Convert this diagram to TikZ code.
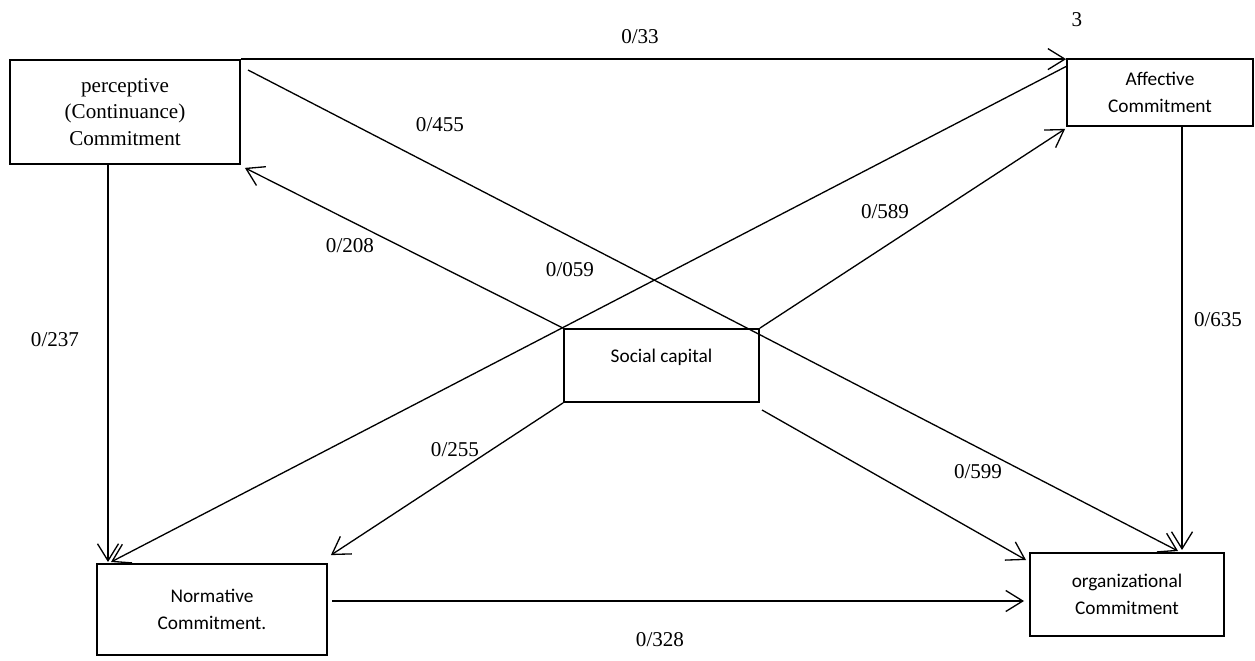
\documentclass[tikz,border=0pt]{standalone}
\usepackage{fontspec}
\setmainfont{Liberation Serif}
\newfontfamily\calib{Carlito}
\usetikzlibrary{arrows.meta,calc}
\tikzset{
  serifbox/.style={rectangle,draw=black,line width=1pt,align=center,
    inner sep=2pt,font=\fontsize{12}{15}\selectfont},
  sansbox/.style={rectangle,draw=black,line width=1pt,align=center,
    inner sep=2pt,font=\calib\fontsize{11}{15.6}\selectfont},
  pathedge/.style={line width=0.75pt,-{Straight Barb[length=3.4mm,width=4.2mm]}},
  coeflabel/.style={font=\fontsize{12}{14}\selectfont,inner sep=1pt}
}
\begin{document}
\begin{tikzpicture}[x=0.2mm,y=-0.2mm]
  \useasboundingbox (0,0) rectangle (1255,661);

  % boxes
  \node[serifbox,minimum width=46mm,minimum height=20.8mm] (percept) at (125,112)
    {perceptive\\(Continuance)\\Commitment};
  \node[sansbox,minimum width=37.2mm,minimum height=13.4mm] (affect) at (1160,92.5)
    {Affective\\Commitment};
  \node[sansbox,minimum width=39mm,minimum height=14.6mm,text height=9pt,text depth=12.5pt]
    (social) at (661.5,365.5) {Social capital};
  \node[sansbox,minimum width=46mm,minimum height=18.2mm] (normat) at (212,609.5)
    {Normative\\Commitment.};
  \node[sansbox,minimum width=38.8mm,minimum height=16.6mm] (org) at (1127,594.5)
    {organizational\\Commitment};

  % end points of the connectors
  \coordinate (p455) at (248,70);
  \coordinate (o455) at (1178,551);
  \coordinate (a059) at (1067,66);
  \coordinate (n059) at (111,562);
  \coordinate (p237) at (108,164);
  \coordinate (n237) at (108,562);
  \coordinate (s599) at (762,410);
  \coordinate (o599) at (1026,560);
  \coordinate (n328) at (332,601);
  \coordinate (o328) at (1024,601);
  \coordinate (a635) at (1182,126);
  \coordinate (o635) at (1182,550);

  % connectors
  \draw[pathedge] (percept.north east) -- (percept.north east -| affect.west);
  \draw[pathedge] (p455) -- (o455);
  \draw[pathedge] (social.north west) -- ($(percept.south east)+(4,3)$);
  \draw[pathedge] (social.north east) -- ($(affect.south west)+(-1,2)$);
  \draw[pathedge] (a059) -- (n059);
  \draw[pathedge] (p237) -- (n237);
  \draw[pathedge] (social.south west) -- ($(normat.north east)+(3,-8)$);
  \draw[pathedge] (s599) -- (o599);
  \draw[pathedge] (n328) -- (o328);
  \draw[pathedge] (a635) -- (o635);

  % coefficients
  \node[coeflabel] (l33) at (640,37) {0/33};
  \node[coeflabel] (l455) at (440,125) {0/455};
  \node[coeflabel] (l208) at (350,246) {0/208};
  \node[coeflabel] (l059) at (570,270) {0/059};
  \node[coeflabel] (l589) at (885,212) {0/589};
  \node[coeflabel] (l237) at (55,340) {0/237};
  \node[coeflabel] (l635) at (1218,320) {0/635};
  \node[coeflabel] (l255) at (455,450) {0/255};
  \node[coeflabel] (l599) at (978,472) {0/599};
  \node[coeflabel] (l328) at (660,640) {0/328};
  \node[coeflabel] (page) at (1077,20) {3};
\end{tikzpicture}
\end{document}
